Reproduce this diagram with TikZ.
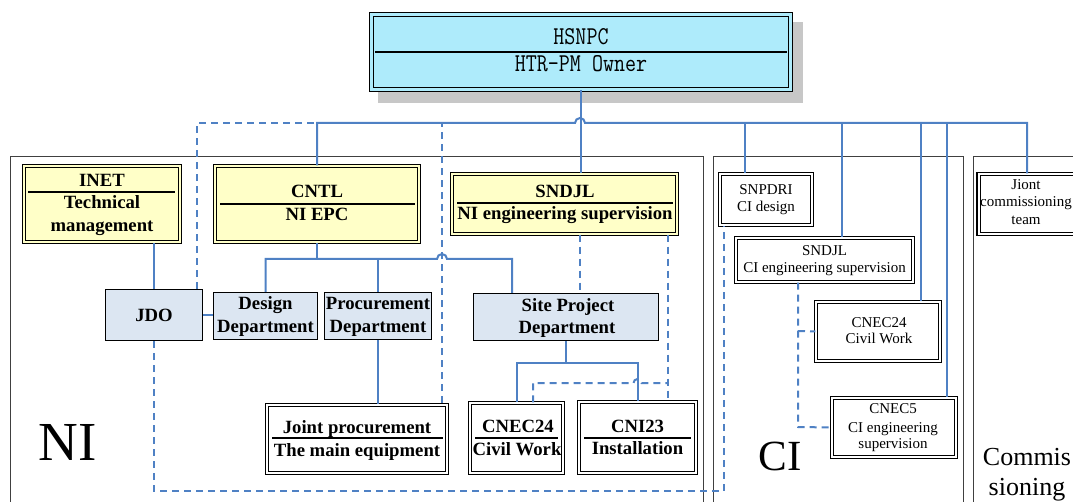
\documentclass[tikz,border=0pt]{standalone}
\usepackage{fontspec}
\setmainfont{Liberation Serif}
\usetikzlibrary{calc}
\definecolor{lineblue}{HTML}{4F81C4}
\definecolor{ownercyan}{HTML}{AEEBFB}
\definecolor{paleyellow}{HTML}{FFFFC8}
\definecolor{deptgray}{HTML}{DCE6F2}
\begin{document}
\begin{tikzpicture}[x=1pt,y=-1pt,
  conn/.style={draw=lineblue,line width=2pt},
  dconn/.style={conn,dash pattern=on 7pt off 5pt},
  regionframe/.style={draw=black!75,line width=0.9pt},
  dbox/.style={draw=black,line width=1.2pt,double=#1,double distance=2pt,fill=#1,inner sep=0pt},
  sbox/.style={draw=black,line width=1.2pt,fill=deptgray,inner sep=0pt},
  divider/.style={draw=black,line width=1.1pt},
  mono/.style={font=\ttfamily\fontsize{21.4}{23}\selectfont,inner sep=0pt,anchor=base},
  nib/.style={font=\fontsize{18.7}{20}\selectfont\bfseries,inner sep=0pt,anchor=base},
  cit/.style={font=\fontsize{15}{17}\selectfont,inner sep=0pt,anchor=base},
  region/.style={inner sep=0pt,anchor=base}]
\useasboundingbox (0,0) rectangle (1073,502);
\clip (0,0) rectangle (1073,502);
% region frames
\draw[regionframe] (10,520) -- (10,156) -- (703,156) -- (703,520);
\draw[regionframe] (713,520) -- (713,156) -- (963,156) -- (963,520);
\draw[regionframe] (973,520) -- (973,156) -- (1090,156);
% shadow
\fill[black!22] (378,22) rectangle (803,103);
% boxes
\node[dbox=ownercyan,line width=1.7pt,double distance=2.4pt,minimum width=419pt,minimum height=75pt] (hsnpc) at (581,52) {};
\node[dbox=paleyellow,minimum width=156pt,minimum height=76pt] (inet) at (102,204) {};
\node[dbox=paleyellow,minimum width=204pt,minimum height=76pt] (cntl) at (317,204) {};
\node[dbox=paleyellow,minimum width=225pt,minimum height=60pt] (sndjl) at (564.5,204) {};
\node[sbox,minimum width=97pt,minimum height=51pt] (jdo) at (154,315) {};
\node[sbox,minimum width=104pt,minimum height=47pt] (design) at (265.5,316) {};
\node[sbox,minimum width=107pt,minimum height=47pt] (proc) at (378,316) {};
\node[sbox,minimum width=185pt,minimum height=47pt] (site) at (566,317) {};
\node[dbox=white,minimum width=180pt,minimum height=68pt] (joint) at (357,439) {};
\node[dbox=white,minimum width=93pt,minimum height=70pt] (cnecni) at (516.5,438) {};
\node[dbox=white,minimum width=117pt,minimum height=71pt] (cni) at (637.5,437.5) {};
\node[dbox=white,minimum width=92pt,minimum height=51pt] (snpdri) at (766,199.5) {};
\node[dbox=white,minimum width=177pt,minimum height=44pt] (sndjlci) at (824.5,260) {};
\node[dbox=white,minimum width=124pt,minimum height=59pt] (cnecci) at (878,331.5) {};
\node[dbox=white,minimum width=124pt,minimum height=59pt] (cnec5) at (894,427.5) {};
\node[dbox=white,minimum width=97pt,minimum height=60pt] (jiont) at (1027,204) {};
% dividers
\draw[divider] (375,52) -- (787,52);
\draw[divider] (28,192) -- (175,192);
\draw[divider] (220,204) -- (415,204);
\draw[divider] (457,203) -- (673,203);
\draw[divider] (272,438) -- (443,438);
\draw[divider] (475,438) -- (558,438);
\draw[divider] (584,438) -- (691,438);
% texts
\node[mono] (t-hs1) at (581,45) {\scalebox{1}[1.2]{HSNPC}};
\node[mono] (t-hs2) at (581,72) {\scalebox{1}[1.2]{HTR-PM Owner}};
\node[nib] (t-inet1) at (102,187) {INET};
\node[nib] (t-inet2) at (102,209) {Technical};
\node[nib] (t-inet3) at (102,232) {management};
\node[nib] (t-cntl1) at (317,198) {CNTL};
\node[nib] (t-cntl2) at (317,221) {NI EPC};
\node[nib] (t-snd1) at (565,198) {SNDJL};
\node[nib] (t-snd2) at (565,220) {NI engineering supervision};
\node[nib] (t-jdo) at (154,322) {JDO};
\node[nib] (t-des1) at (265.5,310) {Design};
\node[nib] (t-des2) at (265.5,333) {Department};
\node[nib] (t-pro1) at (378,310) {Procurement};
\node[nib] (t-pro2) at (378,333) {Department};
\node[nib] (t-site1) at (568,312) {Site Project};
\node[nib] (t-site2) at (567,334) {Department};
\node[nib] (t-joi1) at (357,433) {Joint procurement};
\node[nib] (t-joi2) at (357,456) {The main equipment};
\node[nib] (t-cne1) at (518,432) {CNEC24};
\node[nib] (t-cne2) at (517,455) {Civil Work};
\node[nib] (t-cni1) at (637.5,432) {CNI23};
\node[nib] (t-cni2) at (637.5,454) {Installation};
\node[cit] (t-snp1) at (766,195) {SNPDRI};
\node[cit] (t-snp2) at (766,212) {CI design};
\node[cit] (t-sci1) at (824.5,256) {SNDJL};
\node[cit] (t-sci2) at (824.5,273) {CI engineering supervision};
\node[cit] (t-cci1) at (879,327) {CNEC24};
\node[cit] (t-cci2) at (879,344) {Civil Work};
\node[cit] (t-c51) at (893,413) {CNEC5};
\node[cit] (t-c52) at (893,432) {CI engineering};
\node[cit] (t-c53) at (893,448) {supervision};
\node[cit] (t-jio1) at (1026,190) {Jiont};
\node[cit] (t-jio2) at (1026,207) {commissioning};
\node[cit] (t-jio3) at (1026,225) {team};
\node[region,font=\fontsize{55}{60}\selectfont] (r-ni) at (68,460) {NI};
\node[region,font=\fontsize{43}{48}\selectfont] (r-ci) at (780,470) {CI};
\node[region,font=\fontsize{26}{30}\selectfont] (r-com1) at (1027,465) {Commis};
\node[region,font=\fontsize{26}{30}\selectfont] (r-com2) at (1027,495) {sioning};
% coordinates
\coordinate (busL) at (317,123);
\coordinate (busR) at (1027,123);
\coordinate (dSnp) at (745,123);
\coordinate (dSci) at (842,123);
\coordinate (dCci) at (921,123);
\coordinate (dC5) at (947,123);
\coordinate (cbus) at (317,259);
\coordinate (cbR) at (512,259);
\coordinate (sbus) at (566,363);
\coordinate (jd1) at (197,123);
\coordinate (jd2) at (442,123);
\coordinate (jd3) at (154,491);
\coordinate (jd4) at (724,491);
\coordinate (sd1) at (580,236);
\coordinate (sd2) at (668,383);
\coordinate (sd3) at (533,383);
\coordinate (cd1) at (798,427);
\coordinate (cd2) at (798,331);
% dashed connectors
\draw[dconn] (jdo.north -| jd1) -- (jd1) -- (jd2) -- (jd2 |- joint.north);
\draw[dconn] (jdo.south) -- (jd3) -- (jd4) -- (jd4 |- snpdri.south);
\draw[dconn] (sndjl.south -| sd1) -- (site.north -| sd1);
\draw[dconn] (sndjl.south -| sd2) -- (sd2 |- cni.north);
\draw[dconn] (sd3 |- cnecni.north) -- (sd3) -- (633.5,383) arc[start angle=180,end angle=0,radius=4pt] -- (sd2);
\draw[dconn] (sndjlci.south -| cd1) -- (cd1) -- (cnec5.west);
\draw[dconn] (cd2) -- (cnecci.west);
% solid connectors
\draw[conn] (cntl.north) -- (busL) -- (575,123) arc[start angle=180,end angle=0,radius=5pt] -- (busR) -- (jiont.north);
\draw[conn] (hsnpc.south) -- (hsnpc.south |- sndjl.north);
\draw[conn] (dSnp) -- (dSnp |- snpdri.north);
\draw[conn] (dSci) -- (dSci |- sndjlci.north);
\draw[conn] (dCci) -- (dCci |- cnecci.north);
\draw[conn] (dC5) -- (dC5 |- cnec5.north);
\draw[conn] (jdo.north) -- (jdo.north |- inet.south);
\draw[conn] (jdo.east) -- (jdo.east -| design.west);
\draw[conn] (cntl.south) -- (cbus);
\draw[conn] (design.north) -- (design.north |- cbus) -- (437,259) arc[start angle=180,end angle=0,radius=5pt] -- (cbR) -- (cbR |- site.north);
\draw[conn] (proc.north) -- (proc.north |- cbus);
\draw[conn] (proc.south) -- (proc.south |- joint.north);
\draw[conn] (site.south) -- (sbus);
\draw[conn] (cnecni.north) -- (cnecni.north |- sbus) -- (cni.north |- sbus) -- (cni.north);
\end{tikzpicture}
\end{document}
